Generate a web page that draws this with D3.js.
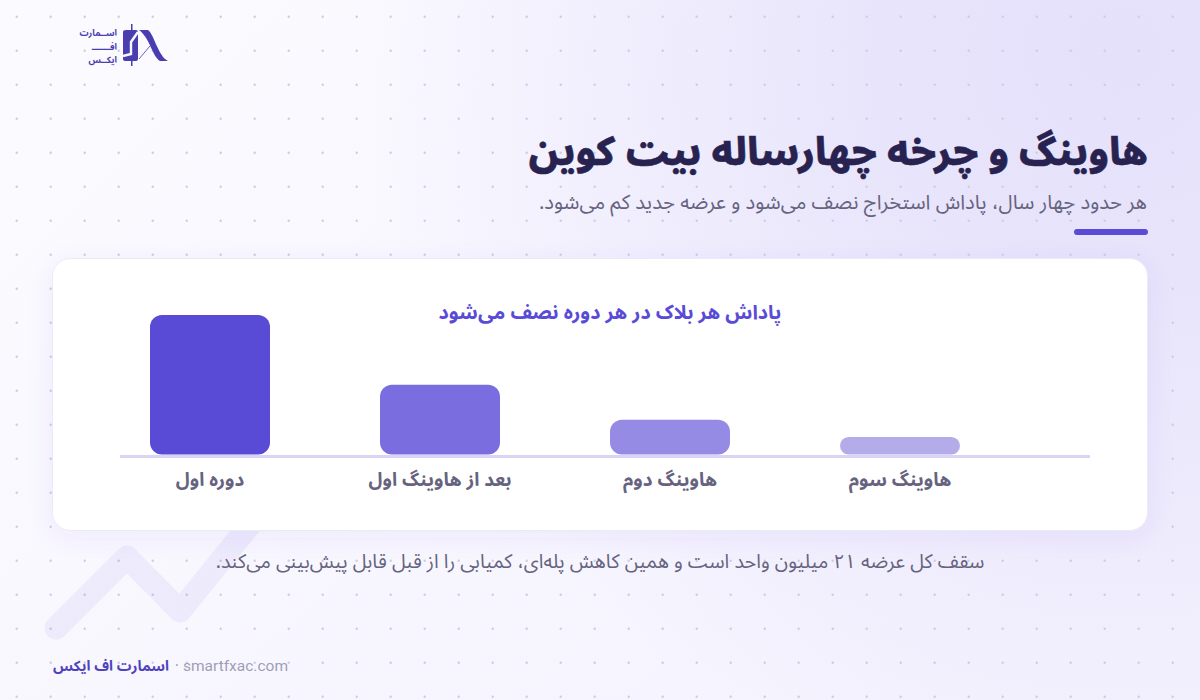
<!DOCTYPE html>
<html lang="fa">
<head>
<meta charset="utf-8">
<script src="https://cdnjs.cloudflare.com/ajax/libs/d3/7.8.5/d3.min.js"></script>
<style>
html,body{margin:0;padding:0;background:#f8f7fe;}
svg{display:block;}
text{font-family:"Noto Sans Arabic","Vazirmatn","DejaVu Sans",sans-serif;}
.rtl{direction:rtl;text-anchor:start;}
</style>
</head>
<body>
<div class="container"></div>
<script>
// data
const categories = ['دوره اول','بعد از هاوینگ اول','هاوینگ دوم','هاوینگ سوم'];
const reward = [50,25,12.5,6.25];
const barColors = ['#5a4bd6','#7a6de0','#958be5','#b3ace9'];

const title = 'هاوینگ و چرخه چهارساله بیت کوین';
const subtitle = 'هر حدود چهار سال، پاداش استخراج نصف می‌شود و عرضه جدید کم می‌شود.';
const chartTitle = 'پاداش هر بلاک در هر دوره نصف می‌شود';
const note = 'سقف کل عرضه ۲۱ میلیون واحد است و همین کاهش پله‌ای، کمیابی را از قبل قابل پیش‌بینی می‌کند.';

const svg = d3.select('.container').append('svg')
	.attr('width',1200)
	.attr('height',700);

const defs = svg.append('defs');

//background: pale base + lilac glow from the top right
const bg = defs.append('linearGradient').attr('id','bg')
	.attr('x1',0).attr('y1',0).attr('x2',1).attr('y2',0.6);
bg.append('stop').attr('offset','0%').attr('stop-color','#fbfbff');
bg.append('stop').attr('offset','100%').attr('stop-color','#f5f3fe');
svg.append('rect').attr('width',1200).attr('height',700).attr('fill','url(#bg)');

const glow = defs.append('radialGradient').attr('id','glow')
	.attr('gradientUnits','userSpaceOnUse')
	.attr('cx',1120).attr('cy',50).attr('r',760);
glow.append('stop').attr('offset','0%').attr('stop-color','#e5e1fb').attr('stop-opacity',1);
glow.append('stop').attr('offset','30%').attr('stop-color','#e5e1fb').attr('stop-opacity',.85);
glow.append('stop').attr('offset','100%').attr('stop-color','#e5e1fb').attr('stop-opacity',0);
svg.append('rect').attr('width',1200).attr('height',700).attr('fill','url(#glow)');

//dot grid
const dots = svg.append('g').attr('fill','#cfcbe6');
d3.range(16.7,700,34).forEach(y=>{
	d3.range(16.7,1200,34).forEach(x=>{
		dots.append('circle').attr('cx',x).attr('cy',y).attr('r',1.2);
	});
});

//arrow in the back
svg.append('path')
	.attr('d','M56 628 L127 557 L180 611 L270 500')
	.attr('fill','none')
	.attr('stroke','#5a4bd6')
	.attr('stroke-opacity',.07)
	.attr('stroke-width',23)
	.attr('stroke-linecap','round')
	.attr('stroke-linejoin','round');

//logo
const logo = svg.append('g').attr('fill','#4a3db0');
logo.append('text').attr('class','rtl').attr('x',117).attr('y',36).attr('font-size',9).attr('font-weight',700).text('اســمارت');
logo.append('text').attr('class','rtl').attr('x',117).attr('y',49.5).attr('font-size',9).attr('font-weight',700).text('افـــــــ');
logo.append('text').attr('class','rtl').attr('x',117).attr('y',63).attr('font-size',9).attr('font-weight',700).text('ایکــس');
logo.append('rect').attr('x',131).attr('y',24).attr('width',1.5).attr('height',42);
logo.append('path').attr('d','M126 30 H136 Q138 30 138 32 V59 Q138 61 136 61 H126 Q123 61 123 59 V32 Q123 30 126 30 Z');
logo.append('path').attr('d','M138 32 L131 42 V54 L123 56')
	.attr('fill','none').attr('stroke','#f8f7fe').attr('stroke-width',2.4);
logo.append('path').attr('d','M139 30 H148 C154 34 158 56 168 61 H160 C152 56 150 38 139 30 Z');
logo.append('path').attr('d','M139 59 L150 46').attr('stroke','#4a3db0').attr('stroke-width',.8).attr('fill','none');

//header
svg.append('text').attr('class','rtl')
	.attr('x',1148).attr('y',165)
	.attr('font-size',39.5).attr('font-weight',800).attr('fill','#27224f')
	.attr('stroke','#27224f').attr('stroke-width',.6)
	.text(title);
svg.append('text').attr('class','rtl')
	.attr('x',1147).attr('y',209)
	.attr('font-size',20.3).attr('fill','#66637f')
	.text(subtitle);
svg.append('rect')
	.attr('x',1074).attr('y',229).attr('width',74).attr('height',6).attr('rx',3)
	.attr('fill','#5a4bd6');

//card
const shadow = defs.append('filter').attr('id','shadow')
	.attr('x','-5%').attr('y','-10%').attr('width','110%').attr('height','125%');
shadow.append('feDropShadow').attr('dx',0).attr('dy',6).attr('stdDeviation',12)
	.attr('flood-color','#5a4bd6').attr('flood-opacity',.07);
svg.append('rect')
	.attr('x',52.5).attr('y',258.5).attr('width',1095).attr('height',272).attr('rx',18)
	.attr('fill','#fff').attr('stroke','#eceaf8')
	.attr('filter','url(#shadow)');

svg.append('text')
	.attr('x',610).attr('y',319)
	.attr('text-anchor','middle').style('direction','rtl')
	.attr('font-size',19.8).attr('font-weight',700).attr('fill','#5a4bd6')
	.text(chartTitle);

//scales
const x = d3.scaleBand().domain(categories).range([150,960]).paddingInner(110/230);
const y = d3.scaleLinear().domain([0,50]).range([454.5,315]);

svg.append('g').selectAll('rect')
	.data(reward)
	.join('rect')
	.attr('x',(d,i)=>x(categories[i]))
	.attr('y',d=>y(d))
	.attr('width',x.bandwidth())
	.attr('height',d=>y(0)-y(d))
	.attr('rx',d=>Math.min(12,(y(0)-y(d))/2))
	.attr('fill',(d,i)=>barColors[i]);

//baseline
svg.append('rect').attr('x',120).attr('y',455).attr('width',970).attr('height',3).attr('fill','#d9d3f5');

//axis labels
const axis = svg.append('g').attr('transform','translate(0,458)')
	.call(d3.axisBottom(x).tickSize(0).tickPadding(15));
axis.select('.domain').remove();
axis.selectAll('text')
	.style('direction','rtl')
	.attr('font-size',18.9).attr('font-weight',700).attr('fill','#66637f')
	.style('font-family','"Noto Sans Arabic","Vazirmatn","DejaVu Sans",sans-serif');

//note
svg.append('text').attr('x',600).attr('y',568)
	.attr('text-anchor','middle').style('direction','rtl')
	.attr('font-size',19.6).attr('fill','#66637f')
	.text(note);

//footer
svg.append('text').attr('x',53).attr('y',671)
	.attr('font-size',14.5).attr('font-weight',700).attr('fill','#4f42bd')
	.text('اسمارت اف ایکس');
svg.append('text').attr('x',175).attr('y',670)
	.attr('font-size',14).attr('fill','#a09db8')
	.text('·');
svg.append('text').attr('x',183).attr('y',671)
	.attr('font-size',15.5).attr('fill','#a09db8')
	.style('font-family','Roboto')
	.text('smartfxac.com');
</script>
</body>
</html>
